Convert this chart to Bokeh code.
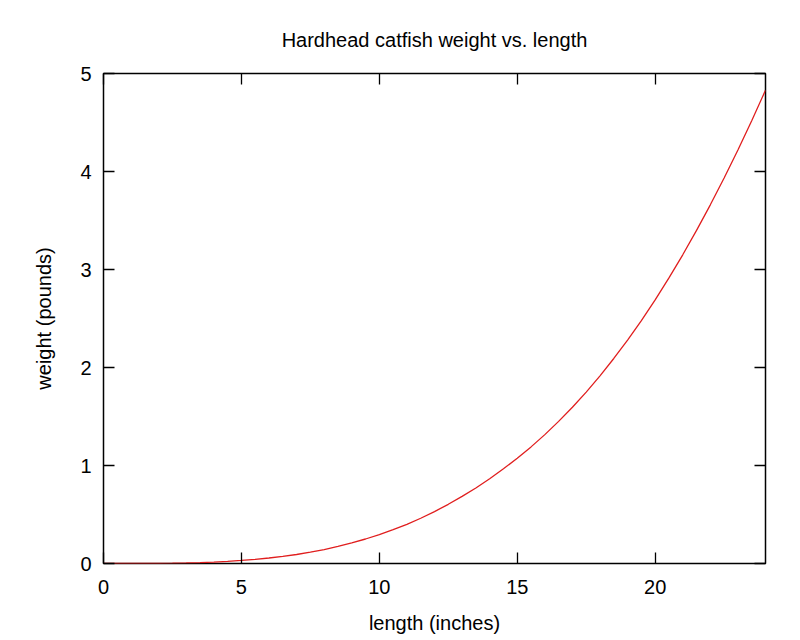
from bokeh.plotting import figure
from bokeh.models import Range1d, FixedTicker, LinearAxis
from bokeh.embed import file_html
from bokeh.resources import INLINE

# Data (length in inches, weight in pounds)
length_in = [0, 0.5, 1, 1.5, 2, 2.5, 3, 3.5, 4, 4.5, 5, 5.5, 6, 6.5, 7, 7.5, 8, 8.5,
             9, 9.5, 10, 10.5, 11, 11.5, 12, 12.5, 13, 13.5, 14, 14.5, 15, 15.5,
             16, 16.5, 17, 17.5, 18, 18.5, 19, 19.5, 20, 20.5, 21, 21.5, 22, 22.5,
             23, 23.5, 24]
weight_lb = [0.0, 0.0, 0.0002, 0.0006, 0.0017, 0.0033, 0.006, 0.0096, 0.015, 0.0219,
             0.031, 0.042, 0.056, 0.072, 0.092, 0.115, 0.142, 0.174, 0.21, 0.250,
             0.295, 0.345, 0.40, 0.462, 0.53, 0.604, 0.685, 0.771, 0.865, 0.966,
             1.075, 1.190, 1.315, 1.450, 1.595, 1.749, 1.915, 2.092, 2.28, 2.479,
             2.69, 2.914, 3.15, 3.399, 3.66, 3.933, 4.22, 4.518, 4.83]

x_ticks = [0, 5, 10, 15, 20]
y_ticks = [0, 1, 2, 3, 4, 5]

title_text = "Hardhead catfish weight vs. length"
x_label = "length (inches)"
y_label = "weight (pounds)"

FONT = "Liberation Sans"
FS = "20px"

p = figure(width=800, height=640, output_backend="svg", toolbar_location=None,
           x_range=Range1d(0, 24), y_range=Range1d(0, 5),
           min_border_left=103, min_border_right=35, min_border_top=73, min_border_bottom=77,
           x_axis_label=x_label, y_axis_label=y_label)

p.background_fill_color = "white"
p.border_fill_color = "white"
p.outline_line_color = "black"
p.outline_line_width = 1.5
p.grid.visible = False

p.title.text = title_text
p.title.align = "center"
p.title.text_font = FONT
p.title.text_font_size = FS
p.title.text_font_style = "normal"
p.title.text_color = "black"
p.title.standoff = 46

for ax in p.xaxis + p.yaxis:
    ax.major_tick_in = 11
    ax.major_tick_out = 0
    ax.minor_tick_line_color = None
    ax.axis_line_color = None
    ax.major_tick_line_color = "black"
    ax.major_tick_line_width = 1.3
    ax.major_label_text_font = FONT
    ax.major_label_text_font_size = FS
    ax.major_label_text_color = "black"
    ax.axis_label_text_font = FONT
    ax.axis_label_text_font_size = FS
    ax.axis_label_text_font_style = "normal"
    ax.axis_label_text_color = "black"

p.xaxis.ticker = FixedTicker(ticks=x_ticks)
p.yaxis.ticker = FixedTicker(ticks=y_ticks)
p.xaxis.major_label_standoff = 16
p.xaxis.axis_label_standoff = 15
p.yaxis.major_label_standoff = 12
p.yaxis.axis_label_standoff = 22

# mirrored ticks on top and right (gnuplot style), without labels
top = LinearAxis(ticker=FixedTicker(ticks=x_ticks), major_tick_in=11, major_tick_out=0,
                 minor_tick_line_color=None, axis_line_color=None,
                 major_tick_line_width=1.3,
                 major_label_overrides={t: "" for t in x_ticks})
right = LinearAxis(ticker=FixedTicker(ticks=y_ticks), major_tick_in=11, major_tick_out=0,
                   minor_tick_line_color=None, axis_line_color=None,
                   major_tick_line_width=1.3,
                   major_label_overrides={t: "" for t in y_ticks})
p.add_layout(top, "above")
p.add_layout(right, "right")

p.line(length_in, weight_lb, line_color="#e01e1e", line_width=1.3)

open("out.html", "w").write(file_html(p, INLINE))
